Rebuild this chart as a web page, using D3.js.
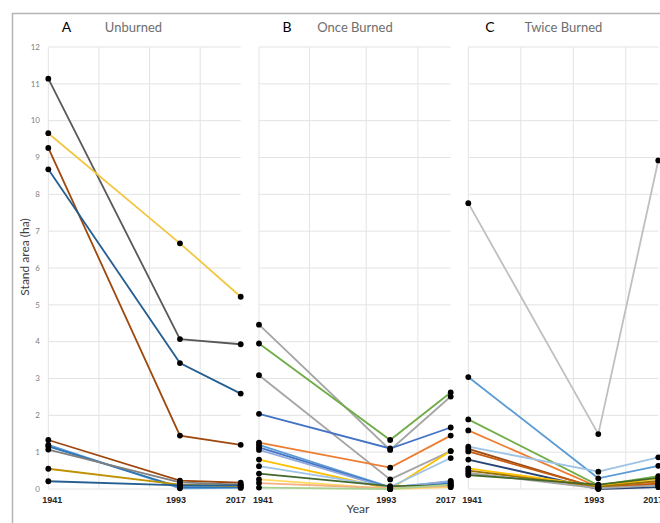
<!DOCTYPE html>
<html><head><meta charset="utf-8">
<script src="https://cdn.jsdelivr.net/npm/d3@7"></script>
<style>body{margin:0;background:#fff}svg{display:block}</style>
</head><body><svg id="c" width="660" height="523"></svg>
<script>
const years = [1941, 1993, 2017];
const yTicks = [0,1,2,3,4,5,6,7,8,9,10,11,12];
const xTickLabels = ["1941", "1993", "2017"];
const panelLetters = ["A", "B", "C"];
const panelTitles = ["Unburned", "Once Burned", "Twice Burned"];
const gridYearsA = [1941, 1961, 1981, 2001];
const gridYearsB = [1941, 1961, 1983.5, 2004];
const gridYearsC = [1941, 1962, 1983, 2004];

// Panel A: Unburned
const unburnedValues = [
  [11.14, 4.07, 3.93],
  [9.66, 6.67, 5.22],
  [9.26, 1.45, 1.20],
  [8.68, 3.42, 2.59],
  [1.33, 0.23, 0.17],
  [1.20, 0.02, 0.03],
  [1.16, 0.05, 0.05],
  [1.07, 0.18, 0.12],
  [0.55, 0.12, 0.08],
  [0.21, 0.10, 0.10]
];
const unburnedColors = ["#595959","#F2C744","#9E480E","#255E91","#9E480E","#5B9BD5","#2E75B6","#7F7F7F","#BF9000","#255E91"];

// Panel B: Once Burned
const onceValues = [
  [4.46, 1.06, 2.51],
  [3.95, 1.33, 2.62],
  [3.09, 0.26, 1.03],
  [2.04, 1.10, 1.67],
  [1.26, 0.58, 1.45],
  [1.20, 0.05, 0.20],
  [1.13, 0.03, 0.15],
  [1.06, 0.02, 0.22],
  [0.80, 0.00, 1.03],
  [0.62, 0.05, 0.84],
  [0.42, 0.08, 0.10],
  [0.26, 0.00, 0.05],
  [0.16, 0.02, 0.08],
  [0.04, 0.00, 0.12]
];
const onceColors = ["#A5A5A5","#70AD47","#A5A5A5","#4472C4","#ED7D31","#5B9BD5","#4472C4","#8FAADC","#FFC000","#9DC3E6","#43682B","#FFD966","#F4B183","#A9D18E"];

// Panel C: Twice Burned
const twiceValues = [
  [7.76, 1.49, 8.92],
  [3.04, 0.29, 0.63],
  [1.89, 0.10, 0.35],
  [1.59, 0.05, 0.20],
  [1.15, 0.47, 0.86],
  [1.09, 0.02, 0.12],
  [1.02, 0.03, 0.15],
  [0.80, 0.00, 0.05],
  [0.56, 0.08, 0.28],
  [0.50, 0.06, 0.22],
  [0.44, 0.02, 0.10],
  [0.38, 0.12, 0.30]
];
const twiceColors = ["#BFBFBF","#5B9BD5","#70AD47","#ED7D31","#9DC3E6","#9E480E","#C55A11","#264478","#FFC000","#997300","#A5A5A5","#43682B"];

const svg = d3.select("#c");
const font = "Lato, 'Open Sans', sans-serif";

// chart border (cropped)
svg.append("path").attr("d","M12.5,530 L12.5,13.5 L670,13.5")
  .attr("fill","none").attr("stroke","#B4B4B4").attr("stroke-width",1.5);

const y = d3.scaleLinear().domain([0,12]).range([489,47]);

const panels = [
  {vals: unburnedValues, cols: unburnedColors, grid: gridYearsA, range:[48.3,240.7], letterX:66.5, titleX:133.5},
  {vals: onceValues, cols: onceColors, grid: gridYearsB, range:[259,450.7], letterX:287, titleX:355},
  {vals: twiceValues, cols: twiceColors, grid: gridYearsC, range:[468.3,658.3], letterX:490, titleX:563.5}
];
const labelShift = [4, -4, -5];

panels.forEach((p, pi) => {
  const x = d3.scaleLinear().domain([1941,2017]).range(p.range);
  const g = svg.append("g");
  // horizontal gridlines
  g.selectAll("line.h").data(yTicks).join("line")
    .attr("x1", x(1941)).attr("x2", x(2017))
    .attr("y1", d => y(d)).attr("y2", d => y(d))
    .attr("stroke","#E3E3E3").attr("stroke-width",1);
  // vertical gridlines
  g.selectAll("line.v").data(p.grid).join("line")
    .attr("x1", d => x(d)).attr("x2", d => x(d))
    .attr("y1", y(12)).attr("y2", y(0))
    .attr("stroke","#E3E3E3").attr("stroke-width",1);
  // lines
  const line = d3.line().x((d,i) => x(years[i])).y(d => y(d));
  g.selectAll("path.s").data(p.vals).join("path")
    .attr("d", d => line(d)).attr("fill","none")
    .attr("stroke", (d,i) => p.cols[i]).attr("stroke-width",1.8);
  // markers
  p.vals.forEach(s => {
    g.selectAll(null).data(s).join("circle")
      .attr("cx",(d,i)=>x(years[i])).attr("cy",d=>y(d)).attr("r",2.9).attr("fill","#000");
  });
  // x labels
  g.selectAll("text.xl").data(xTickLabels).join("text")
    .attr("x",(d,i)=>x(years[i]) + labelShift[i]).attr("y",503)
    .attr("text-anchor","middle").attr("font-family","Arial, 'Liberation Sans', sans-serif")
    .attr("font-weight","bold").attr("font-size",9).attr("fill","#262626").text(d=>d);
  // titles
  g.append("text").attr("x",p.letterX).attr("y",32).attr("text-anchor","middle")
    .attr("font-family",font).attr("font-size",14).attr("fill","#000").text(panelLetters[pi]);
  g.append("text").attr("x",p.titleX).attr("y",31.5).attr("text-anchor","middle")
    .attr("font-family",font).attr("font-size",13).attr("fill","#6E6E6E").text(panelTitles[pi]);
});

// y tick labels (panel A only)
svg.selectAll("text.yt").data(yTicks).join("text")
  .attr("x",40).attr("y",d=>y(d)).attr("dy","0.35em").attr("text-anchor","end")
  .attr("font-family",font).attr("font-size",8).attr("fill","#7F7F7F").text(d=>d);

// axis titles
svg.append("text").attr("transform","translate(29,257) rotate(-90)").attr("text-anchor","middle")
  .attr("font-family",font).attr("font-size",12).attr("fill","#404040").text("Stand area (ha)");
svg.append("text").attr("x",358).attr("y",513).attr("text-anchor","middle")
  .attr("font-family",font).attr("font-size",12).attr("fill","#404040").text("Year");
</script></body></html>
